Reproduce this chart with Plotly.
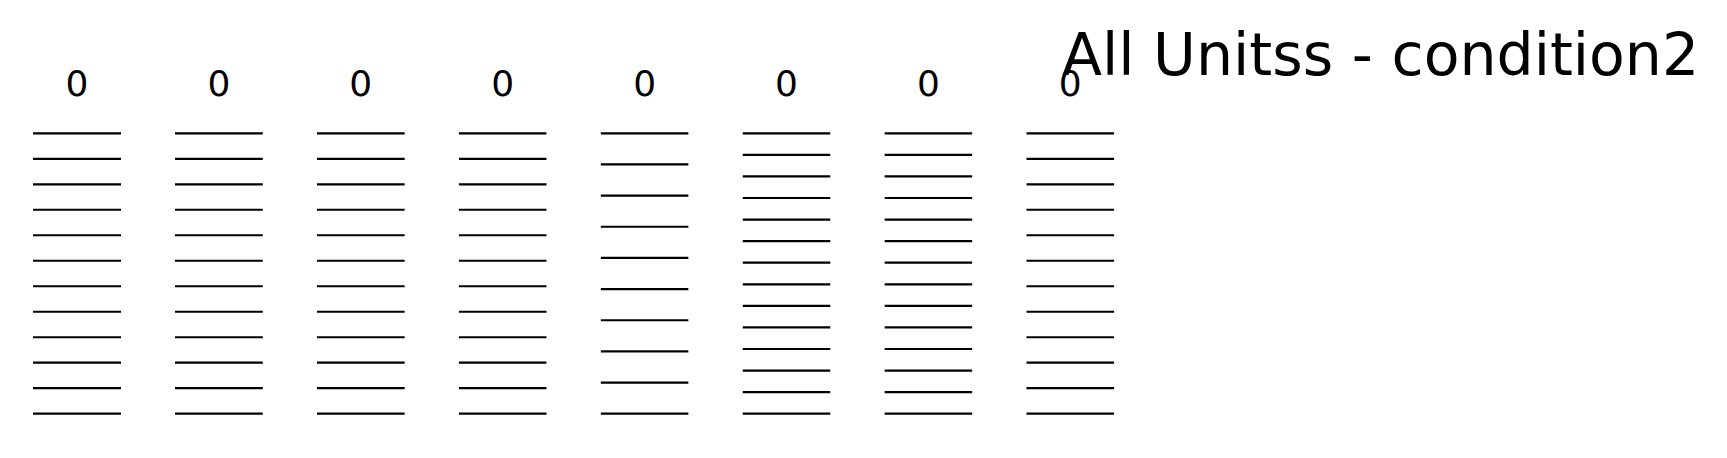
import plotly.graph_objects as go

# ---- data ----
title_text = "All Unitss - condition2"
unit_ids = [0, 1, 2, 3, 4, 5, 6, 7]
trial_counts = [12, 12, 12, 12, 10, 14, 14, 12]
window_start = [-0.5] * 8
window_end = [0.5] * 8
tick_vals = [0]
tick_text = ["0"]

# ---- layout geometry (pixels, figure coords; page adds an 8px body margin) ----
W, H = 1727, 458
col_left0 = 25.0
col_step = 141.9
col_width = 88.0
row_top_px = 125.3
row_bot_px = 405.7
axis_top_px = 96.5
axis_bot_px = 412.0

fig = go.Figure()
layout_axes = {}
for i, (uid, n) in enumerate(zip(unit_ids, trial_counts)):
    xs, ys = [], []
    for r in range(n):
        xs += [window_start[i], window_end[i], None]
        ys += [r, r, None]
    suffix = "" if i == 0 else str(i + 1)
    fig.add_trace(go.Scatter(
        x=xs, y=ys, mode="lines",
        line=dict(color="black", width=2.2),
        xaxis="x" + suffix, yaxis="y" + suffix,
        showlegend=False, hoverinfo="skip",
    ))
    left = col_left0 + col_step * i
    u = (n - 1) / (row_bot_px - row_top_px)
    yr = [0 - (axis_bot_px - row_bot_px) * u, (n - 1) + (row_top_px - axis_top_px) * u]
    layout_axes["xaxis" + suffix] = dict(
        domain=[left / W, (left + col_width) / W],
        range=[window_start[i], window_end[i]],
        anchor="y" + suffix, side="top",
        tickvals=tick_vals, ticktext=tick_text,
        ticks="", showline=False, showgrid=False, zeroline=False,
        tickfont=dict(family="DejaVu Sans", size=36, color="black"),
        fixedrange=True,
    )
    layout_axes["yaxis" + suffix] = dict(
        domain=[1 - axis_bot_px / H, 1 - axis_top_px / H],
        range=yr, anchor="x" + suffix,
        visible=False, showgrid=False, zeroline=False,
        fixedrange=True,
    )

fig.update_layout(
    width=W, height=H,
    margin=dict(l=0, r=0, t=0, b=0),
    paper_bgcolor="white", plot_bgcolor="white",
    showlegend=False,
    **layout_axes,
)
fig.add_annotation(
    text=title_text, xref="paper", yref="paper",
    x=1052 / W, y=1 - 47 / H, xanchor="left", yanchor="middle",
    showarrow=False,
    font=dict(family="DejaVu Sans", size=58.5, color="black"),
)

fig.write_html("out.html")
